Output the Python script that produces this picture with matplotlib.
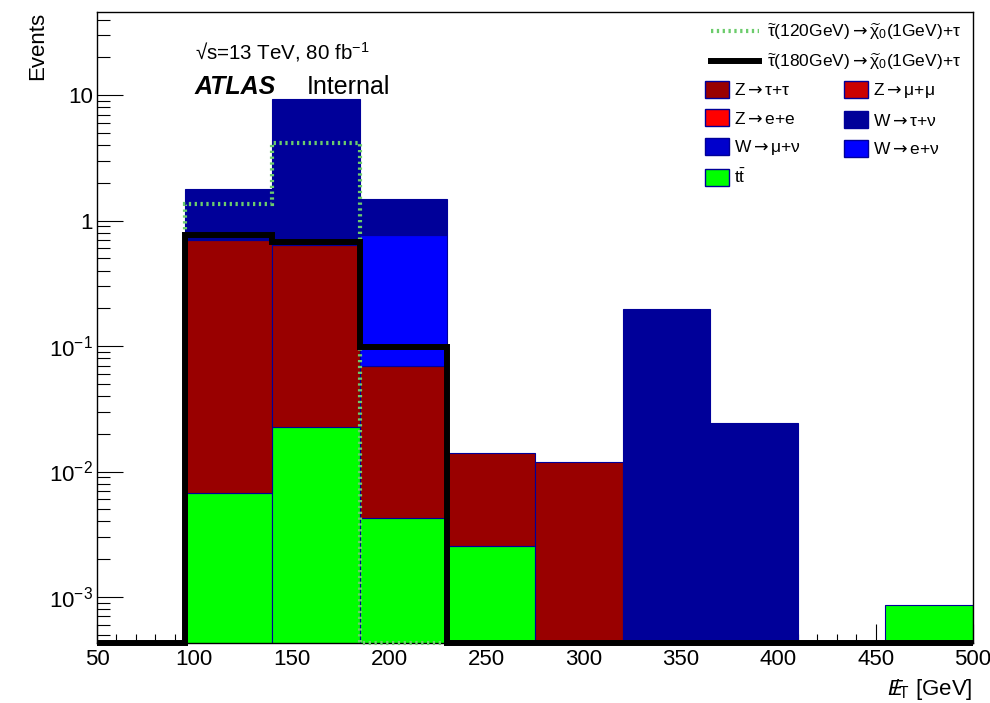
import numpy as np
import matplotlib
matplotlib.use("Agg")
import matplotlib.pyplot as plt
from matplotlib.patches import Patch
from matplotlib.lines import Line2D
from matplotlib.ticker import FixedLocator, FixedFormatter, MultipleLocator, LogLocator, NullFormatter

plt.rcParams['font.family'] = ['Liberation Sans', 'DejaVu Sans']
plt.rcParams['mathtext.fontset'] = 'custom'
plt.rcParams['mathtext.rm'] = 'Liberation Sans'
plt.rcParams['mathtext.it'] = 'Liberation Sans:italic'
plt.rcParams['mathtext.bf'] = 'Liberation Sans:bold'
plt.rcParams['mathtext.sf'] = 'DejaVu Sans'

# Missing-ET binning [GeV]
bin_edges = [50, 95, 140, 185, 230, 275, 320, 365, 410, 455, 500]

# Background yields per bin (events)
ttbar    = [0, 0.0068, 0.0227, 0.00428, 0.00255, 0, 0, 0, 0, 0.00086]
z_tautau = [0, 0.693, 0.614, 0.0647, 0.0116, 0.0119, 0, 0, 0, 0]
z_mumu   = [0, 0, 0, 0, 0, 0, 0, 0, 0, 0]
z_ee     = [0, 0, 0, 0, 0, 0, 0, 0, 0, 0]
w_munu   = [0, 0, 0, 0, 0, 0, 0, 0, 0, 0]
w_enu    = [0, 0, 0, 0.696, 0, 0, 0, 0, 0, 0]
w_taunu  = [0, 1.10, 8.76, 0.735, 0, 0, 0.197, 0.0242, 0, 0]

# Signal yields per bin (events)
sig_120 = [0, 1.35, 4.16, 0, 0, 0, 0, 0, 0, 0]
sig_180 = [0, 0.764, 0.676, 0.0975, 0, 0, 0, 0, 0, 0]

ARROW = r"$\mathsf{\rightarrow}$"
bg_labels = ["Z" + ARROW + "\u03c4+\u03c4", "Z" + ARROW + "\u03bc+\u03bc", "Z" + ARROW + "e+e",
             "W" + ARROW + "\u03c4+\u03bd", "W" + ARROW + "\u03bc+\u03bd", "W" + ARROW + "e+\u03bd",
             r"$\mathrm{t\bar{t}}$"]
sig_labels = [r"$\widetilde{\mathrm{\tau}}$(120GeV)" + ARROW + r"$\widetilde{\mathrm{\chi}}_{0}$(1GeV)+" + "\u03c4",
              r"$\widetilde{\mathrm{\tau}}$(180GeV)" + ARROW + r"$\widetilde{\mathrm{\chi}}_{0}$(1GeV)+" + "\u03c4"]

C_ZTT, C_ZMM, C_ZEE = "#990000", "#cc0000", "#ff0000"
C_WTN, C_WMN, C_WEN = "#000099", "#0000cc", "#0000ff"
C_TT = "#00ff00"
C_EDGE = "#000099"
C_SIG120 = "#6ccc6c"

ymin, ymax = 4.3e-4, 46.0

fig = plt.figure(figsize=(9.9, 7.03), dpi=100)
ax = fig.add_axes([97/990, 60/703, 876/990, 631/703])
ax.set_yscale("log")

edges = np.array(bin_edges, dtype=float)
lefts = edges[:-1]
widths = np.diff(edges)

# stacked backgrounds, bottom to top
stack = [(ttbar, C_TT), (z_tautau, C_ZTT), (z_mumu, C_ZMM), (z_ee, C_ZEE),
         (w_munu, C_WMN), (w_enu, C_WEN), (w_taunu, C_WTN)]
bottom = np.zeros(len(lefts))
for vals, col in stack:
    v = np.array(vals, dtype=float)
    m = v > 0
    if m.any():
        ax.bar(lefts[m], v[m], width=widths[m], bottom=bottom[m], align="edge",
               color=col, edgecolor=C_EDGE, linewidth=0.8, zorder=2)
    bottom = bottom + v

# signal step lines; empty bins are drawn along the frame minimum
s120 = np.clip(np.array(sig_120, dtype=float), ymin, None)
s180 = np.clip(np.array(sig_180, dtype=float), ymin, None)
ax.stairs(s120, edges, baseline=None, color=C_SIG120, linewidth=3.0,
          linestyle=(0, (0.55, 0.85)), clip_on=False, zorder=4)
ax.stairs(s180, edges, baseline=None, color="black", linewidth=4.3,
          clip_on=False, zorder=5)

ax.set_xlim(50, 500)
ax.set_ylim(ymin, ymax)

ax.xaxis.set_major_locator(MultipleLocator(50))
ax.xaxis.set_minor_locator(MultipleLocator(10))
ax.yaxis.set_major_locator(FixedLocator([1e-3, 1e-2, 1e-1, 1, 10]))
ax.yaxis.set_major_formatter(FixedFormatter([r"$10^{-3}$", r"$10^{-2}$", r"$10^{-1}$", "1", "10"]))
ax.yaxis.set_minor_locator(LogLocator(base=10, subs=np.arange(2, 10), numticks=20))
ax.yaxis.set_minor_formatter(NullFormatter())

ax.tick_params(which="both", direction="in", top=False, right=False, width=0.8, color="black")
ax.tick_params(axis="x", which="major", length=13.5, labelsize=16, pad=4)
ax.tick_params(axis="x", which="minor", length=6.7)
ax.tick_params(axis="y", which="major", length=18.5, labelsize=16, pad=3)
ax.tick_params(axis="y", which="minor", length=9.3)
for sp in ax.spines.values():
    sp.set_linewidth(1.0)

ax.set_xlabel(r"$E\!\!\!/_{\mathrm{T}}$ [GeV]", fontsize=16, loc="right", labelpad=5)
ax.set_ylabel("Events", fontsize=16, loc="top", labelpad=0.8)

fig.text(195/990, 1 - 59/703, "\u221as=13 TeV, 80 fb$^{-1}$", fontsize=14.8, va="baseline")
fig.text(195/990, 1 - 94/703, "ATLAS", fontsize=18, fontweight="bold", fontstyle="italic", va="baseline")
fig.text(307/990, 1 - 94/703, "Internal", fontsize=18, va="baseline")

sig_handles = [Line2D([], [], color=C_SIG120, linewidth=3.0, linestyle=(0, (0.55, 0.85))),
               Line2D([], [], color="black", linewidth=4.3)]
leg1 = ax.legend(sig_handles, sig_labels, loc="upper left",
                 bbox_to_anchor=(711/990, 1 - 22/703), bbox_transform=fig.transFigure,
                 frameon=False, fontsize=12.5, handlelength=2.75, handletextpad=0.5,
                 labelspacing=0.55, borderpad=0, borderaxespad=0)
ax.add_artist(leg1)

bg_colors = [C_ZTT, C_ZMM, C_ZEE, C_WTN, C_WMN, C_WEN, C_TT]
bg_handles = [Patch(facecolor=c, edgecolor=C_EDGE, linewidth=1.0) for c in bg_colors]
order = [0, 2, 4, 6, 1, 3, 5]
leg2 = ax.legend([bg_handles[i] for i in order], [bg_labels[i] for i in order],
                 ncol=2, loc="upper left",
                 bbox_to_anchor=(705/990, 1 - 81/703), bbox_transform=fig.transFigure,
                 frameon=False, fontsize=12.5, handlelength=1.4, handleheight=1.15,
                 handletextpad=0.25, labelspacing=0.62, columnspacing=2.5,
                 borderpad=0, borderaxespad=0)

fig.savefig("out.png", dpi=100)
